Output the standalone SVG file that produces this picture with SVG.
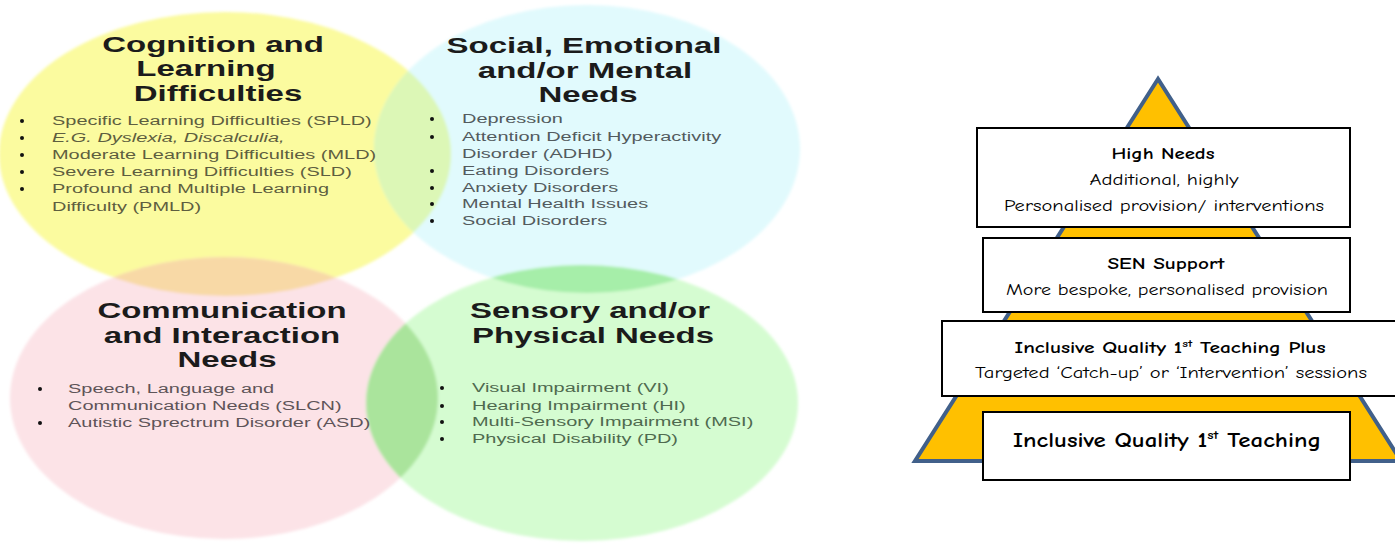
<svg xmlns="http://www.w3.org/2000/svg" width="1395" height="544" viewBox="0 0 1395 544">
  <style>
    .ttl { font-family: "Liberation Sans", Arial, sans-serif; font-weight: bold; font-size: 22px; fill: #1b1b1b; text-anchor: middle; }
    .itm { font-family: "Liberation Sans", Arial, sans-serif; font-size: 13.3px; }
    .y .itm { fill: #5e5e40; }
    .b .itm { fill: #535b5e; }
    .p .itm { fill: #5e5458; }
    .g .itm { fill: #4f6a4f; }
    .dot { fill: #111; }
    .py { font-family: "Comic Sans MS", "Comic Neue", "DejaVu Sans", sans-serif; text-anchor: middle; fill: #000; }
    .pyb { font-weight: bold; }
    .box { fill: #fff; stroke: #000; stroke-width: 2; }
  </style>
  <defs>
    <filter id="soft" x="-5%" y="-5%" width="110%" height="110%">
      <feGaussianBlur stdDeviation="1.5"/>
    </filter>
    <ellipse id="eY" cx="225" cy="154" rx="226" ry="142"/>
    <ellipse id="eB" cx="587" cy="149" rx="213" ry="144"/>
    <ellipse id="eP" cx="224" cy="398" rx="214" ry="141"/>
    <ellipse id="eG" cx="582" cy="403" rx="216" ry="138"/>
    <clipPath id="cY"><use href="#eY"/></clipPath>
    <clipPath id="cB"><use href="#eB"/></clipPath>
    <clipPath id="cP"><use href="#eP"/></clipPath>
  </defs>

  <rect width="1395" height="544" fill="#ffffff"/>

  <!-- Venn: four need areas with their overlaps -->
  <g id="venn-shapes" filter="url(#soft)">
    <use href="#eY" fill="#fbfb9f"/>
    <use href="#eB" fill="#e1fafd"/>
    <use href="#eP" fill="#fce3e7"/>
    <use href="#eG" fill="#d5fcd1"/>
    <use href="#eB" fill="#dcf7b6" clip-path="url(#cY)"/>
    <use href="#eP" fill="#f8d9a6" clip-path="url(#cY)"/>
    <use href="#eG" fill="#a6eea9" clip-path="url(#cB)"/>
    <use href="#eG" fill="#aae49c" clip-path="url(#cP)"/>
  </g>

  <g id="cognition" class="y">
    <text class="ttl" transform="translate(213,52) scale(1.5,1)">Cognition and</text>
    <text class="ttl" transform="translate(206,76) scale(1.5,1)">Learning</text>
    <text class="ttl" transform="translate(218,101) scale(1.5,1)">Difficulties</text>
    <circle class="dot" cx="22" cy="121" r="2"/>
    <circle class="dot" cx="22" cy="138" r="2"/>
    <circle class="dot" cx="22" cy="155" r="2"/>
    <circle class="dot" cx="22" cy="172" r="2"/>
    <circle class="dot" cx="22" cy="189" r="2"/>
    <text class="itm" transform="translate(52,125) scale(1.5,1)">Specific Learning Difficulties (SPLD)</text>
    <text class="itm" font-style="italic" transform="translate(52,142) scale(1.5,1)">E.G. Dyslexia, Discalculia,</text>
    <text class="itm" transform="translate(52,159) scale(1.5,1)">Moderate Learning Difficulties (MLD)</text>
    <text class="itm" transform="translate(52,176) scale(1.5,1)">Severe Learning Difficulties (SLD)</text>
    <text class="itm" transform="translate(52,193) scale(1.5,1)">Profound and Multiple Learning</text>
    <text class="itm" transform="translate(52,211) scale(1.5,1)">Difficulty (PMLD)</text>
  </g>

  <g id="social" class="b">
    <text class="ttl" transform="translate(584,53) scale(1.5,1)">Social, Emotional</text>
    <text class="ttl" transform="translate(585,78) scale(1.5,1)">and/or Mental</text>
    <text class="ttl" transform="translate(588,102) scale(1.5,1)">Needs</text>
    <circle class="dot" cx="432" cy="119" r="2"/>
    <circle class="dot" cx="432" cy="137" r="2"/>
    <circle class="dot" cx="432" cy="171" r="2"/>
    <circle class="dot" cx="432" cy="188" r="2"/>
    <circle class="dot" cx="432" cy="204" r="2"/>
    <circle class="dot" cx="432" cy="221" r="2"/>
    <text class="itm" transform="translate(462,123) scale(1.5,1)">Depression</text>
    <text class="itm" transform="translate(462,141) scale(1.5,1)">Attention Deficit Hyperactivity</text>
    <text class="itm" transform="translate(462,158) scale(1.5,1)">Disorder (ADHD)</text>
    <text class="itm" transform="translate(462,175) scale(1.5,1)">Eating Disorders</text>
    <text class="itm" transform="translate(462,192) scale(1.5,1)">Anxiety Disorders</text>
    <text class="itm" transform="translate(462,208) scale(1.5,1)">Mental Health Issues</text>
    <text class="itm" transform="translate(462,225) scale(1.5,1)">Social Disorders</text>
  </g>

  <g id="communication" class="p">
    <text class="ttl" transform="translate(222,318) scale(1.5,1)">Communication</text>
    <text class="ttl" transform="translate(222,343) scale(1.5,1)">and Interaction</text>
    <text class="ttl" transform="translate(227,367) scale(1.5,1)">Needs</text>
    <circle class="dot" cx="40" cy="389" r="2"/>
    <circle class="dot" cx="40" cy="423" r="2"/>
    <text class="itm" transform="translate(68,393) scale(1.5,1)">Speech, Language and</text>
    <text class="itm" transform="translate(68,410) scale(1.5,1)">Communication Needs (SLCN)</text>
    <text class="itm" transform="translate(68,427) scale(1.5,1)">Autistic Sprectrum Disorder (ASD)</text>
  </g>

  <g id="sensory" class="g">
    <text class="ttl" transform="translate(590,318) scale(1.5,1)">Sensory and/or</text>
    <text class="ttl" transform="translate(593,343) scale(1.5,1)">Physical Needs</text>
    <circle class="dot" cx="442" cy="388" r="2"/>
    <circle class="dot" cx="442" cy="406" r="2"/>
    <circle class="dot" cx="442" cy="422" r="2"/>
    <circle class="dot" cx="442" cy="439" r="2"/>
    <text class="itm" transform="translate(472,392) scale(1.5,1)">Visual Impairment (VI)</text>
    <text class="itm" transform="translate(472,410) scale(1.5,1)">Hearing Impairment (HI)</text>
    <text class="itm" transform="translate(472,426) scale(1.5,1)">Multi-Sensory Impairment (MSI)</text>
    <text class="itm" transform="translate(472,443) scale(1.5,1)">Physical Disability (PD)</text>
  </g>

  <!-- Pyramid of provision -->
  <g id="pyramid">
    <polygon points="1158,79 915,461 1401,461" fill="#ffc000" stroke="#41608a" stroke-width="4" stroke-linejoin="miter"/>
  </g>

  <g id="high-needs">
    <rect class="box" x="977" y="128" width="373" height="99"/>
    <text class="py pyb" x="1163" y="159" font-size="16" textLength="103" lengthAdjust="spacingAndGlyphs">High Needs</text>
    <text class="py" x="1164" y="185" font-size="16" textLength="149" lengthAdjust="spacingAndGlyphs">Additional, highly</text>
    <text class="py" x="1164" y="211" font-size="16" textLength="320" lengthAdjust="spacingAndGlyphs">Personalised provision/ interventions</text>
  </g>

  <g id="sen-support">
    <rect class="box" x="983" y="238" width="367" height="74"/>
    <text class="py pyb" x="1166" y="269" font-size="16" textLength="117" lengthAdjust="spacingAndGlyphs">SEN Support</text>
    <text class="py" x="1167" y="295" font-size="16" textLength="322" lengthAdjust="spacingAndGlyphs">More bespoke, personalised provision</text>
  </g>

  <g id="quality-plus">
    <rect class="box" x="942" y="321" width="470" height="75"/>
    <text class="py pyb" x="1170" y="353" font-size="16" textLength="311" lengthAdjust="spacingAndGlyphs">Inclusive Quality 1<tspan font-size="10" dy="-6">st</tspan><tspan dy="6"> Teaching Plus</tspan></text>
    <text class="py" x="1171" y="378" font-size="16" textLength="392" lengthAdjust="spacingAndGlyphs">Targeted ‘Catch-up’ or ‘Intervention’ sessions</text>
  </g>

  <g id="quality-first">
    <rect class="box" x="983" y="412" width="367" height="68"/>
    <text class="py pyb" x="1167" y="447" font-size="20" textLength="308" lengthAdjust="spacingAndGlyphs">Inclusive Quality 1<tspan font-size="12" dy="-8">st</tspan><tspan dy="8"> Teaching</tspan></text>
  </g>
</svg>
